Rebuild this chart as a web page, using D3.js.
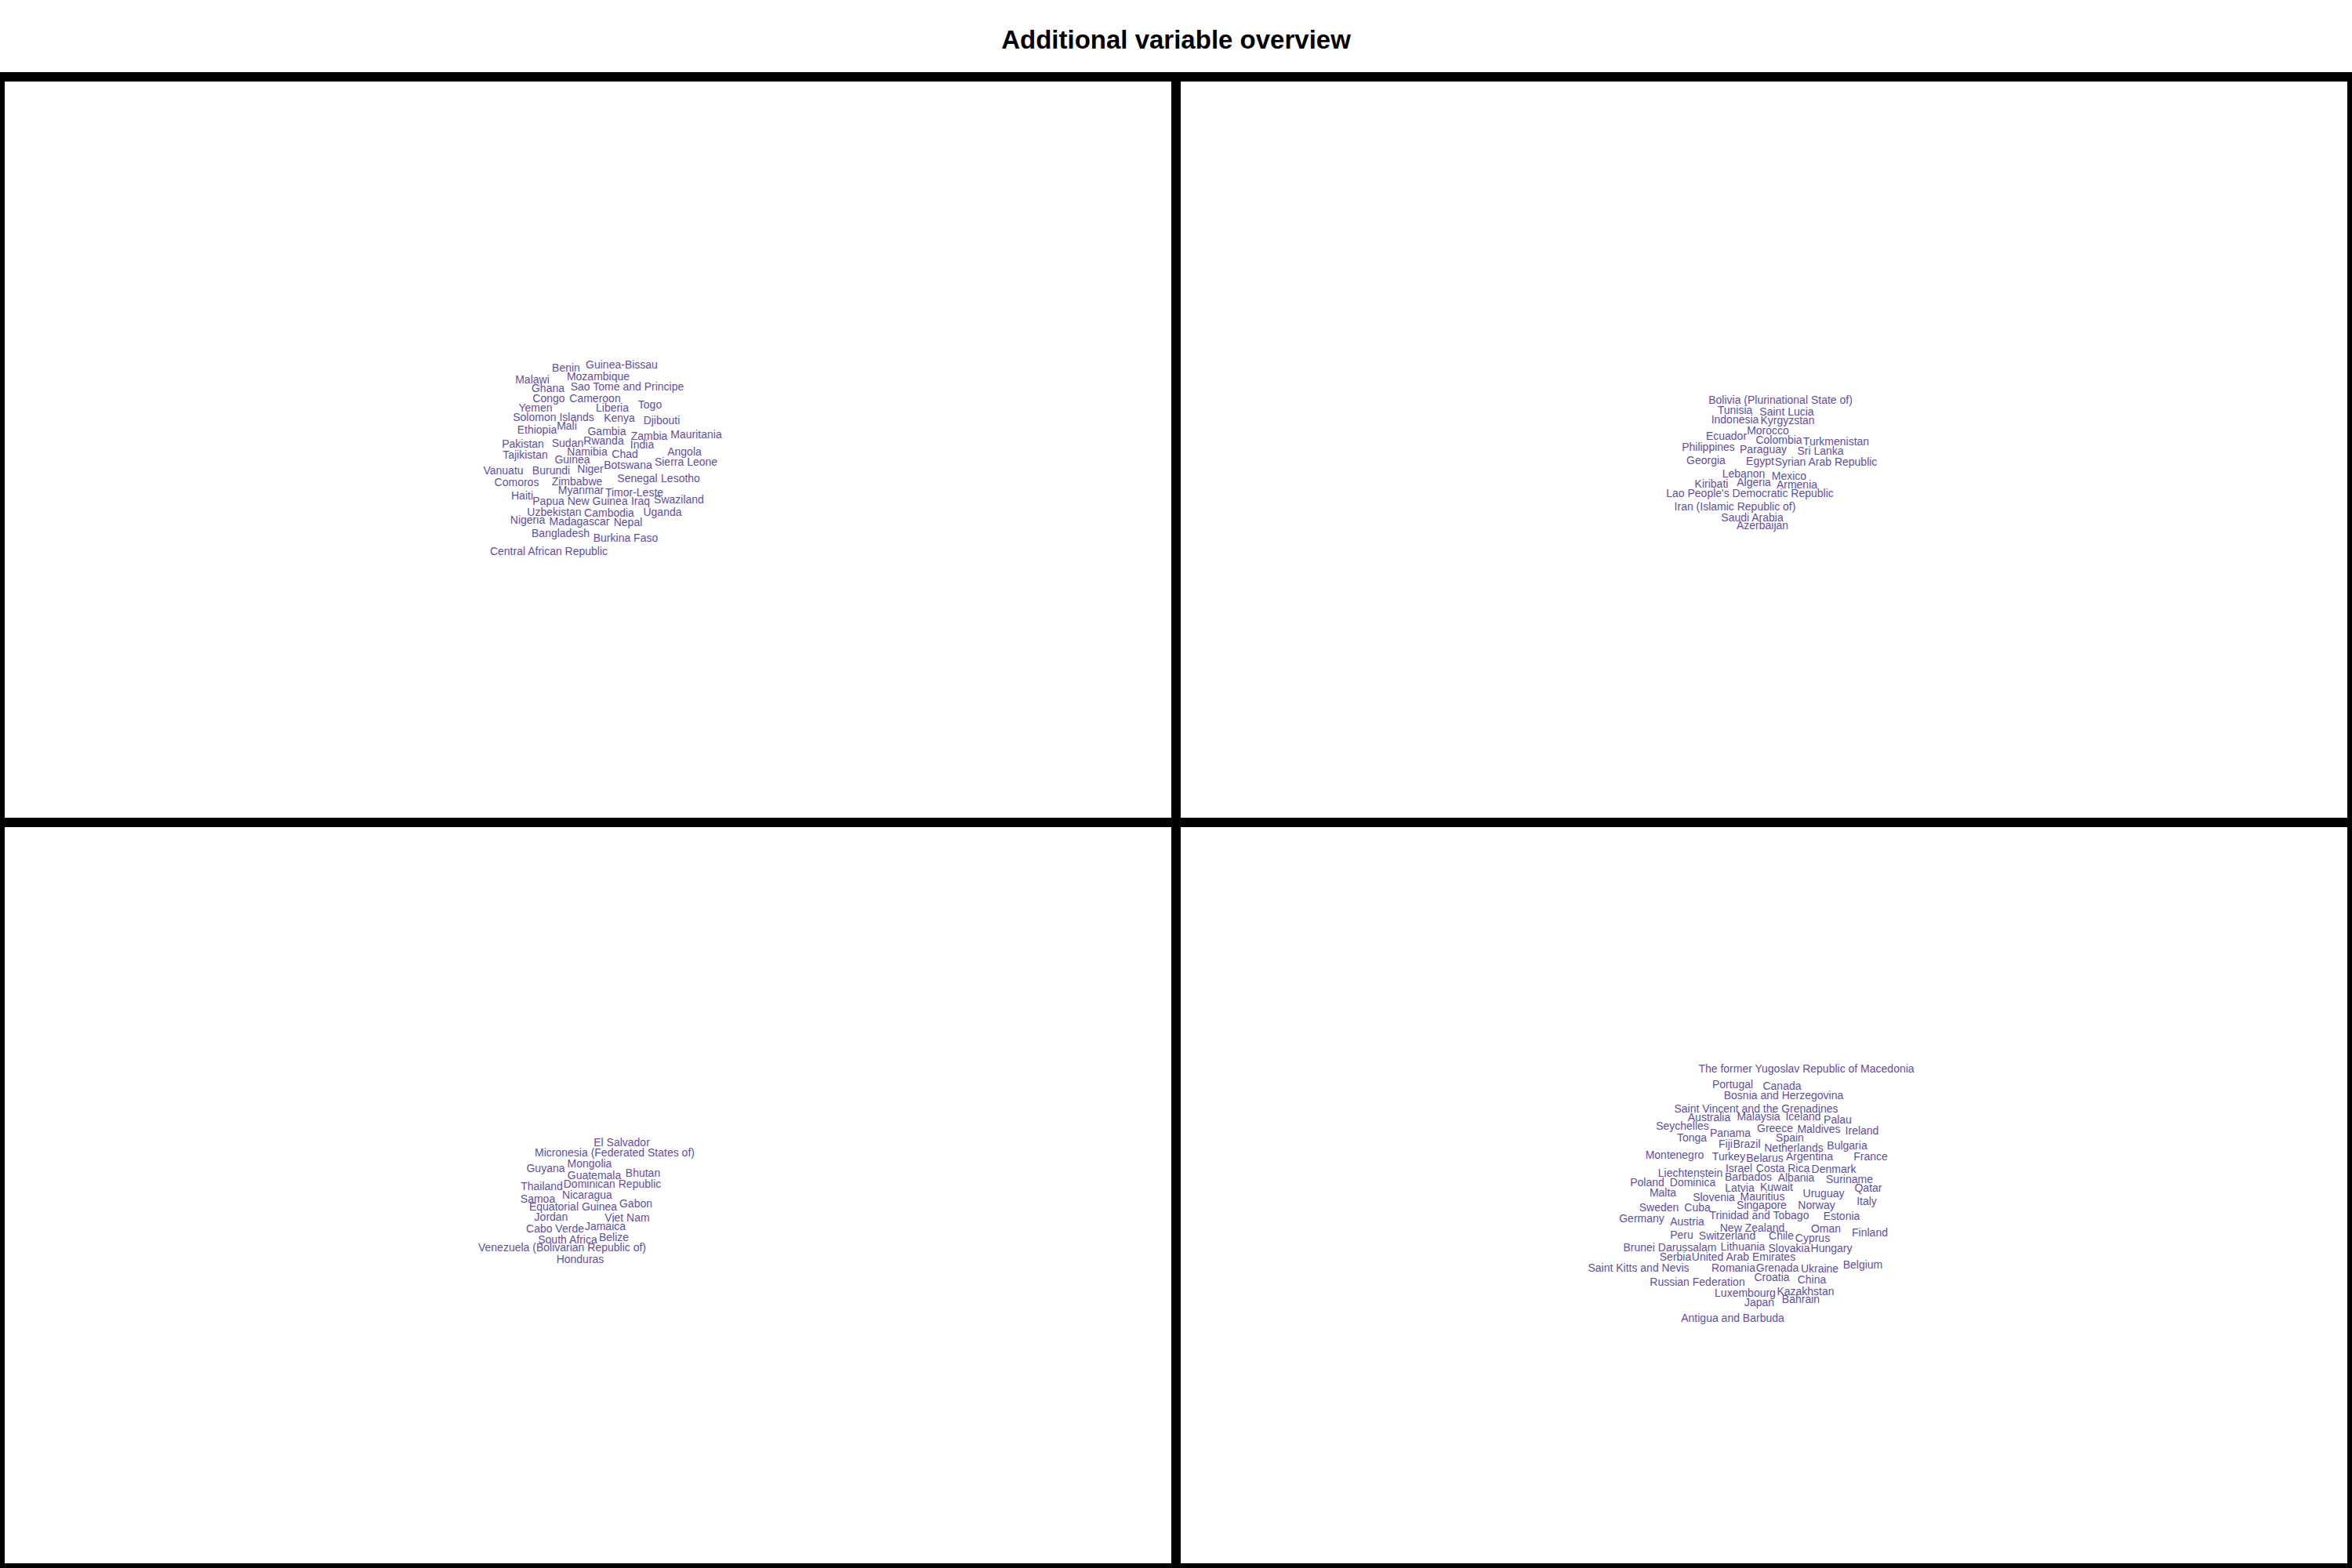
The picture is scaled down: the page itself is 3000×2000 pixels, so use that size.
<!DOCTYPE html>
<html>
<head>
<meta charset="utf-8">
<script src="https://d3js.org/d3.v7.min.js"></script>
<style>
  html, body { margin: 0; padding: 0; background: #fff; }
  svg { display: block; }
</style>
</head>
<body>
<script>
// Chart title
const chartTitle = "Additional variable overview";

// Word-cloud layouts: [word, cloudX, cloudY] (cloud coordinates relative to the panel centre)
const cloudPanel1 = [
  ["Benin",-28,-100],["Guinea-Bissau",43,-104],["Malawi",-71,-85],["Mozambique",13,-89],
  ["Ghana",-51,-74],["Sao Tome and Principe",50,-76],["Congo",-50,-61],["Cameroon",9,-61],
  ["Togo",79,-53],["Yemen",-67,-49],["Liberia",31,-49],["Solomon Islands",-44,-37],
  ["Kenya",40,-36],["Djibouti",94,-33],["Ethiopia",-65,-21],["Mali",-27,-26],
  ["Gambia",24,-19],["Zambia",78,-13],["Mauritania",138,-15],["Pakistan",-83,-3],
  ["Sudan",-26,-4],["Rwanda",20,-7],["India",69,-2],["Namibia",-1,7],["Angola",123,7],
  ["Chad",47,10],["Tajikistan",-80,11],["Guinea",-20,17],["Sierra Leone",125,20],
  ["Vanuatu",-108,31],["Burundi",-47,31],["Niger",3,29],["Botswana",51,24],
  ["Comoros",-91,46],["Zimbabwe",-14,45],["Senegal",63,41],["Lesotho",118,41],
  ["Myanmar",-9,56],["Timor-Leste",59,59],["Haiti",-84,63],["Papua New Guinea",-10,70],
  ["Iraq",67,70],["Swaziland",116,68],["Uzbekistan",-43,84],["Cambodia",27,85],
  ["Uganda",95,84],["Nigeria",-77,94],["Madagascar",-11,96],["Nepal",51,97],
  ["Bangladesh",-35,111],["Burkina Faso",48,117],["Central African Republic",-50,134]
];
const cloudPanel2 = [
  ["Bolivia (Plurinational State of)",21,-59],["Tunisia",-37,-46],["Saint Lucia",29,-44],
  ["Indonesia",-37,-34],["Kyrgyzstan",30,-33],["Morocco",5,-20],["Ecuador",-48,-13],
  ["Colombia",19,-8],["Turkmenistan",92,-6],["Philippines",-71,1],["Paraguay",-1,4],
  ["Sri Lanka",72,6],["Georgia",-74,18],["Egypt",-5,19],["Syrian Arab Republic",79,20],
  ["Lebanon",-26,35],["Mexico",32,38],["Kiribati",-67,48],["Algeria",-13,46],
  ["Armenia",42,49],["Lao People's Democratic Republic",-18,60],
  ["Iran (Islamic Republic of)",-37,77],["Saudi Arabia",-15,91],["Azerbaijan",-2,101]
];
const cloudPanel3 = [
  ["El Salvador",43,-63],["Micronesia (Federated States of)",34,-50],["Mongolia",2,-36],
  ["Guyana",-54,-30],["Guatemala",8,-21],["Bhutan",70,-24],["Thailand",-59,-7],
  ["Dominican Republic",31,-10],["Nicaragua",-1,4],["Samoa",-64,9],["Gabon",61,15],
  ["Equatorial Guinea",-19,19],["Jordan",-47,32],["Viet Nam",50,33],["Cabo Verde",-42,47],
  ["Jamaica",22,44],["South Africa",-26,61],["Belize",33,58],
  ["Venezuela (Bolivarian Republic of)",-33,71],["Honduras",-10,86]
];
const cloudPanel4 = [
  ["The former Yugoslav Republic of Macedonia",54,-157],["Portugal",-40,-137],["Canada",23,-135],
  ["Bosnia and Herzegovina",25,-123],["Saint Vincent and the Grenadines",-10,-106],
  ["Australia",-70,-95],["Malaysia",-7,-96],["Iceland",50,-96],["Palau",94,-92],
  ["Seychelles",-104,-84],["Panama",-43,-75],["Greece",14,-81],["Maldives",70,-80],
  ["Ireland",125,-78],["Tonga",-92,-69],["Spain",33,-69],["Fiji",-49,-61],["Brazil",-22,-61],
  ["Netherlands",38,-56],["Bulgaria",106,-59],["Montenegro",-114,-47],["Turkey",-45,-45],
  ["Belarus",1,-43],["Argentina",58,-45],["France",136,-45],["Liechtenstein",-94,-24],
  ["Israel",-32,-30],["Costa Rica",24,-30],["Denmark",89,-29],["Barbados",-20,-19],
  ["Albania",41,-18],["Suriname",109,-16],["Poland",-149,-12],["Dominica",-91,-12],
  ["Latvia",-31,-5],["Kuwait",16,-6],["Qatar",133,-5],["Malta",-129,1],["Uruguay",76,2],
  ["Slovenia",-64,7],["Mauritius",-2,6],["Italy",131,12],["Sweden",-134,20],["Cuba",-85,20],
  ["Singapore",-3,17],["Norway",67,17],["Germany",-156,34],["Austria",-98,38],
  ["Trinidad and Tobago",-6,30],["Estonia",99,31],["New Zealand",-15,46],["Oman",79,47],
  ["Finland",135,52],["Peru",-105,55],["Switzerland",-47,56],["Chile",22,56],["Cyprus",62,59],
  ["Brunei Darussalam",-120,71],["Lithuania",-27,70],["Slovakia",32,72],["Hungary",86,72],
  ["Serbia",-113,83],["United Arab Emirates",-26,83],["Saint Kitts and Nevis",-160,97],
  ["Romania",-39,97],["Grenada",17,97],["Ukraine",71,98],["Belgium",126,93],
  ["Russian Federation",-85,115],["Croatia",10,109],["China",61,112],["Luxembourg",-24,129],
  ["Kazakhstan",53,127],["Bahrain",47,137],["Japan",-6,141],["Antigua and Barbuda",-40,161]
];
const panelClouds = [cloudPanel1, cloudPanel2, cloudPanel3, cloudPanel4];

// ---- layout / style ----
const W = 3000, H = 2000;
const gridTop = 98;
const nCols = 2, nRows = 2;
const panelW = W / nCols, panelH = (H - gridTop) / nRows;
const wordColor = "#5f4f9e";
const fontFam = "'Liberation Sans', Arial, Helvetica, sans-serif";

const svg = d3.select("body").append("svg")
  .attr("width", W).attr("height", H)
  .attr("viewBox", `0 0 ${W} ${H}`);

svg.append("rect").attr("width", W).attr("height", H).attr("fill", "#fff");

svg.append("text")
  .attr("x", W / 2).attr("y", 62)
  .attr("text-anchor", "middle")
  .attr("font-family", fontFam)
  .attr("font-weight", "bold")
  .attr("font-size", 33)
  .attr("fill", "#000")
  .text(chartTitle);

const colScale = d3.scaleBand().domain(d3.range(nCols)).range([0, W]);
const rowScale = d3.scaleBand().domain(d3.range(nRows)).range([gridTop, H]);

panelClouds.forEach((cloud, i) => {
  const c = i % nCols, r = Math.floor(i / nCols);
  const x0 = colScale(c), y0 = rowScale(r);
  const g = svg.append("g");
  const xs = d3.scaleLinear().domain([-panelW / 2, panelW / 2]).range([x0, x0 + panelW]);
  const ys = d3.scaleLinear().domain([-panelH / 2, panelH / 2]).range([y0, y0 + panelH]);

  g.selectAll("text").data(cloud).join("text")
    .attr("x", d => xs(d[1]))
    .attr("y", d => ys(d[2]))
    .attr("text-anchor", "middle")
    .attr("font-family", fontFam)
    .attr("font-size", 14)
    .attr("fill", wordColor)
    .text(d => d[0]);

  g.append("rect")
    .attr("x", x0).attr("y", y0)
    .attr("width", panelW).attr("height", panelH)
    .attr("fill", "none")
    .attr("stroke", "#000")
    .attr("stroke-width", 12);
});
</script>
</body>
</html>
